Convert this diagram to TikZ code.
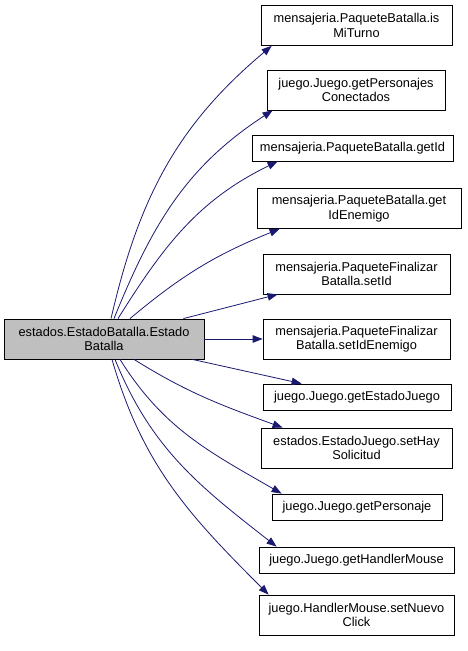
\documentclass[tikz,border=0pt]{standalone}
\usepackage{fontspec}
\setmainfont{Liberation Sans}
\usetikzlibrary{arrows.meta, positioning}
\definecolor{edgeblue}{HTML}{191970}
\definecolor{mainfill}{HTML}{BFBFBF}

\begin{document}
\begin{tikzpicture}[x=1pt, y=1pt, >={Triangle[length=10pt, width=7.5pt]},
    % cajas de funciones, misma fuente que el grafo de doxygen
    box/.style={draw, line width=0.8pt, minimum height=40pt, inner sep=2pt, align=center, font=\fontsize{12.8}{14.5}\selectfont},
    onebox/.style={box, minimum height=26pt},
    call/.style={->, draw=edgeblue, line width=0.8pt}]

    \useasboundingbox (0,0) rectangle (467,-651);

    % nodo de origen a la izquierda
    \node[box, fill=mainfill, minimum width=200pt] (eb) at (104,-339) {estados.EstadoBatalla.Estado\\Batalla};

    % funciones llamadas, columna derecha
    \node[box, minimum width=191pt]   (mt) at (356.5,-25.5) {mensajeria.PaqueteBatalla.is\\MiTurno};
    \node[box, minimum width=178pt]   (pc) at (356,-90) {juego.Juego.getPersonajes\\Conectados};
    \node[onebox, minimum width=201pt] (gi) at (352.5,-148) {mensajeria.PaqueteBatalla.getId};
    \node[box, minimum width=204pt]   (ge) at (359,-208.5) {mensajeria.PaqueteBatalla.get\\IdEnemigo};
    \node[box, minimum width=187pt]   (si) at (356.5,-274) {mensajeria.PaqueteFinalizar\\Batalla.setId};
    \node[box, minimum width=187pt]   (se) at (356.5,-339) {mensajeria.PaqueteFinalizar\\Batalla.setIdEnemigo};
    \node[onebox, minimum width=188pt] (ej) at (357,-397) {juego.Juego.getEstadoJuego};
    \node[box, minimum width=191pt]   (hs) at (356.5,-448) {estados.EstadoJuego.setHay\\Solicitud};
    \node[onebox, minimum width=170pt] (gp) at (357,-507) {juego.Juego.getPersonaje};
    \node[onebox, minimum width=195pt] (hm) at (356.5,-560) {juego.Juego.getHandlerMouse};
    \node[box, minimum width=195pt]   (nc) at (356.5,-615) {juego.HandlerMouse.setNuevo\\Click};

    % llamadas hacia arriba
    \draw[call] ([xshift=7]eb.north) to[out=77, in=220] ([xshift=11]mt.south west);
    \draw[call] ([xshift=10]eb.north) to[out=68, in=213] ([xshift=6]pc.south west);
    \draw[call] ([xshift=14]eb.north) to[out=58, in=206] ([xshift=26]gi.south west);
    \draw[call] ([xshift=26]eb.north) to[out=40, in=202] ([xshift=23]ge.south west);
    \draw[call] ([xshift=-21]eb.north east) -- ([xshift=15]si.south west);
    \draw[call] (eb.east) -- (se.west);

    % llamadas hacia abajo
    \draw[call] ([xshift=-12]eb.south east) -- ([xshift=39]ej.north west);
    \draw[call] ([xshift=30]eb.south) to[out=-32, in=160] ([xshift=22]hs.north west);
    \draw[call] ([xshift=16]eb.south) to[out=-58, in=150] ([xshift=10]gp.north west);
    \draw[call] ([xshift=11]eb.south) to[out=-68, in=142] ([xshift=18]hm.north west);
    \draw[call] ([xshift=8]eb.south) to[out=-74, in=135] ([xshift=10]nc.north west);
\end{tikzpicture}
\end{document}
